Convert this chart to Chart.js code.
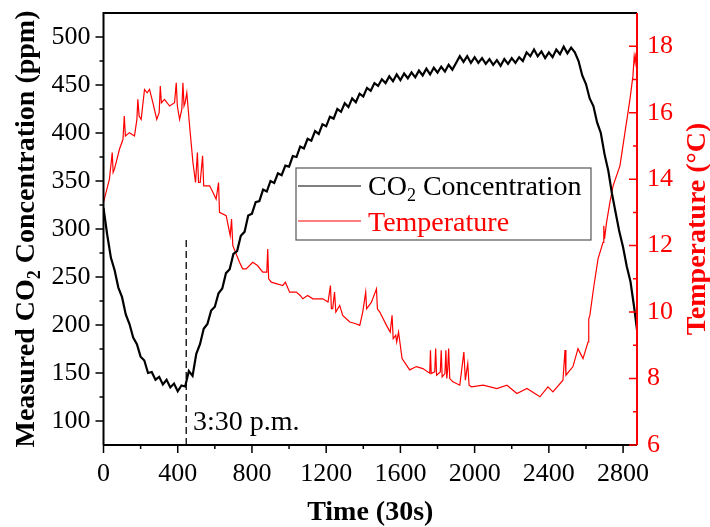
<!DOCTYPE html>
<html>
<head>
<meta charset="utf-8">
<script src="https://cdn.jsdelivr.net/npm/chart.js@4.4.1/dist/chart.umd.min.js"></script>
<style>
  html, body { margin: 0; padding: 0; background: #fff; }
</style>
</head>
<body>
<canvas id="chart" width="710" height="527"></canvas>
<script>
// time axis in units of 30 s
const co2Time = [0, 20, 40, 60, 80, 100, 120, 140, 160, 180, 200, 220, 240, 260, 280, 300, 320, 340, 360, 380,
  400, 420, 440, 460, 480, 500, 520, 540, 560, 580, 600, 620, 640, 660, 680, 700, 720, 740, 760, 780,
  800, 820, 840, 860, 880, 900, 920, 940, 960, 980, 1000, 1020, 1040, 1060, 1080, 1100, 1120, 1140, 1160, 1180,
  1200, 1220, 1240, 1260, 1280, 1300, 1320, 1340, 1360, 1380, 1400, 1420, 1440, 1460, 1480, 1500, 1520, 1540, 1560, 1580,
  1600, 1620, 1640, 1660, 1680, 1700, 1720, 1740, 1760, 1780, 1800, 1820, 1840, 1860, 1880, 1900, 1920, 1940, 1960, 1980,
  2000, 2020, 2040, 2060, 2080, 2100, 2120, 2140, 2160, 2180, 2200, 2220, 2240, 2260, 2280, 2300, 2320, 2340, 2360, 2380,
  2400, 2420, 2440, 2460, 2480, 2500, 2520, 2540, 2560, 2580, 2600, 2620, 2640, 2660, 2680, 2700, 2720, 2740, 2760, 2780,
  2800, 2820, 2840, 2860, 2875];

// measured CO2 (ppm)
const co2Values = [322, 294, 270, 257, 239, 229, 211, 201, 187, 180, 167, 163, 150, 151, 143, 146, 138, 143, 135, 139,
  131, 137, 136, 152, 147, 170, 180, 196, 201, 215, 219, 233, 238, 254, 258, 274, 277, 293, 297, 314,
  316, 328, 329, 341, 339, 350, 348, 358, 356, 366, 365, 376, 375, 386, 384, 394, 392, 402, 399, 409,
  407, 417, 415, 425, 422, 431, 427, 436, 432, 441, 438, 447, 444, 452, 449, 456, 452, 459, 454, 461,
  455, 462, 457, 463, 458, 465, 460, 467, 461, 468, 463, 469, 464, 471, 466, 473, 480, 474, 480, 473,
  479, 473, 478, 472, 477, 471, 476, 470, 477, 472, 478, 473, 479, 475, 484, 480, 487, 480, 485, 478,
  484, 479, 487, 482, 490, 483, 489, 484, 475, 460, 451, 436, 428, 411, 400, 378, 361, 337, 317, 297,
  281, 261, 245, 218, 195];

// temperature (°C)
const tempTime = [0, 32, 47, 52, 59, 86, 105, 112, 118, 140, 167, 180, 185, 192, 203, 221, 235, 248, 266, 287,
  300, 306, 312, 329, 356, 383, 392, 398, 410, 422, 428, 434, 440, 449, 455, 464, 482, 496, 506, 512,
  521, 534, 540, 572, 590, 607, 620, 625, 661, 683, 690, 697, 733, 750, 769, 804, 830, 858, 880, 885,
  890, 904, 966, 980, 1003, 1039, 1060, 1074, 1100, 1128, 1182, 1210, 1223, 1228, 1235, 1245, 1252, 1273, 1289, 1327,
  1360, 1381, 1397, 1413, 1418, 1444, 1471, 1476, 1489, 1525, 1545, 1555, 1561, 1575, 1580, 1590, 1609, 1650, 1686, 1721,
  1758, 1762, 1766, 1785, 1790, 1795, 1815, 1820, 1825, 1840, 1845, 1850, 1855, 1860, 1866, 1883, 1920, 1942, 1950, 1963,
  1970, 1983, 2046, 2120, 2174, 2228, 2282, 2352, 2395, 2422, 2476, 2487, 2492, 2530, 2557, 2584, 2611, 2615, 2621, 2643,
  2665, 2692, 2696, 2700, 2711, 2729, 2746, 2783, 2810, 2837, 2853, 2860, 2865, 2870];
const tempValues = [13.3, 14.0, 14.8, 14.2, 14.3, 14.9, 15.2, 15.9, 15.3, 15.4, 15.3, 15.8, 16.4, 15.9, 15.8, 16.7, 16.6, 16.7, 16.3, 15.8,
  16.0, 16.8, 16.3, 16.4, 16.2, 16.3, 16.9, 16.2, 15.8, 16.1, 16.9, 16.2, 16.3, 16.6, 16.2, 15.6, 14.5, 13.9, 14.8, 13.9,
  13.9, 14.7, 13.8, 13.8, 13.6, 13.4, 13.9, 13.0, 12.9, 12.3, 12.8, 12.0, 11.5, 11.3, 11.3, 11.5, 11.4, 11.2, 11.2, 11.9,
  11.0, 10.9, 10.8, 10.9, 10.6, 10.6, 10.5, 10.4, 10.5, 10.4, 10.4, 10.3, 10.8, 10.1, 10.1, 10.6, 10.0, 10.2, 9.9, 9.7,
  9.65, 9.6, 10.0, 10.6, 10.1, 10.3, 10.7, 10.1, 10.0, 9.6, 9.4, 9.9, 9.2, 9.3, 9.1, 9.4, 8.6, 8.26, 8.36, 8.3,
  8.16, 8.85, 8.15, 8.2, 8.9, 8.1, 8.2, 8.85, 8.05, 8.15, 8.85, 8.0, 8.3, 8.9, 8.0, 7.9, 7.8, 8.8, 7.95, 8.45,
  7.8, 7.75, 7.8, 7.7, 7.8, 7.55, 7.7, 7.45, 7.75, 7.6, 7.95, 8.86, 8.1, 8.36, 8.9, 8.6, 9.1, 9.8, 9.9, 10.8,
  11.6, 12.1, 12.6, 12.2, 12.7, 13.3, 13.8, 14.4, 15.4, 16.4, 17.1, 17.7, 17.5, 17.8];

// 3:30 p.m. marker
const markerTime = [446, 446];
const markerCo2 = [75, 289];

const xTicks = [0, 400, 800, 1200, 1600, 2000, 2400, 2800];
const xMinor = [200, 600, 1000, 1400, 1800, 2200, 2600];
const co2Ticks = [100, 150, 200, 250, 300, 350, 400, 450, 500];
const co2Minor = [125, 175, 225, 275, 325, 375, 425, 475];
const tempTicks = [6, 8, 10, 12, 14, 16, 18];
const tempMinor = [7, 9, 11, 13, 15, 17];

const FONT = '"Liberation Serif", "Times New Roman", serif';
const RED = '#ff0000';

function toPoints(xs, ys) {
  return xs.map((x, i) => ({ x: x, y: ys[i] }));
}

// draw text pieces, some as subscripts; x is the centre when center is true
function drawRuns(ctx, runs, x, y, size, bold, center) {
  const main = (bold ? 'bold ' : '') + size + 'px ' + FONT;
  const small = (bold ? 'bold ' : '') + Math.round(size * 0.65) + 'px ' + FONT;
  let total = 0;
  runs.forEach(r => {
    ctx.font = r.sub ? small : main;
    r.w = ctx.measureText(r.t).width;
    total += r.w;
  });
  let cx = center ? x - total / 2 : x;
  ctx.textAlign = 'left';
  ctx.textBaseline = 'alphabetic';
  runs.forEach(r => {
    ctx.font = r.sub ? small : main;
    ctx.fillText(r.t, cx, r.sub ? y + size * 0.2 : y);
    cx += r.w;
  });
}

// no extra room for half labels, keep the plot box fixed
function fixPadding(s) {
  s.paddingTop = 0;
  s.paddingBottom = 0;
}

const framePlugin = {
  id: 'frame',
  afterDraw(chart) {
    const { ctx, chartArea: a, scales } = chart;
    const sx = scales.x, sl = scales.y, sr = scales.y2;
    ctx.save();

    // box
    ctx.lineWidth = 2;
    ctx.strokeStyle = '#000';
    ctx.beginPath();
    ctx.moveTo(a.left, a.bottom);
    ctx.lineTo(a.left, a.top);
    ctx.lineTo(a.right, a.top);
    ctx.moveTo(a.left, a.bottom);
    ctx.lineTo(a.right, a.bottom);
    ctx.stroke();

    // bottom + left ticks (outward)
    ctx.lineWidth = 1.5;
    ctx.beginPath();
    xTicks.forEach(v => { const p = sx.getPixelForValue(v); ctx.moveTo(p, a.bottom); ctx.lineTo(p, a.bottom + 8); });
    xMinor.forEach(v => { const p = sx.getPixelForValue(v); ctx.moveTo(p, a.bottom); ctx.lineTo(p, a.bottom + 4); });
    co2Ticks.forEach(v => { const p = sl.getPixelForValue(v); ctx.moveTo(a.left - 8, p); ctx.lineTo(a.left, p); });
    co2Minor.forEach(v => { const p = sl.getPixelForValue(v); ctx.moveTo(a.left - 4, p); ctx.lineTo(a.left, p); });
    ctx.stroke();

    // right axis (red, ticks inward)
    ctx.strokeStyle = RED;
    ctx.lineWidth = 2;
    ctx.beginPath();
    ctx.moveTo(a.right, a.top);
    ctx.lineTo(a.right, a.bottom);
    ctx.stroke();
    ctx.lineWidth = 1.5;
    ctx.beginPath();
    tempTicks.forEach(v => { const p = sr.getPixelForValue(v); ctx.moveTo(a.right - 8, p); ctx.lineTo(a.right, p); });
    tempMinor.forEach(v => { const p = sr.getPixelForValue(v); ctx.moveTo(a.right - 4, p); ctx.lineTo(a.right, p); });
    ctx.stroke();

    // axis titles
    ctx.fillStyle = '#000';
    drawRuns(ctx, [{ t: 'Time (30s)' }], (a.left + a.right) / 2, 520, 28, true, true);

    ctx.save();
    ctx.translate(34, (a.top + a.bottom) / 2);
    ctx.rotate(-Math.PI / 2);
    drawRuns(ctx, [{ t: 'Measured CO' }, { t: '2', sub: true }, { t: ' Concentration (ppm)' }], 0, 0, 28, true, true);
    ctx.restore();

    ctx.save();
    ctx.fillStyle = RED;
    ctx.translate(705, (a.top + a.bottom) / 2);
    ctx.rotate(-Math.PI / 2);
    drawRuns(ctx, [{ t: 'Temperature (°C)' }], 0, 0, 28, true, true);
    ctx.restore();

    // marker label
    ctx.fillStyle = '#000';
    drawRuns(ctx, [{ t: '3:30 p.m.' }], 193, 430, 28, false, false);

    // legend
    ctx.fillStyle = '#fff';
    ctx.fillRect(296, 168, 295, 72);
    ctx.strokeStyle = '#555';
    ctx.lineWidth = 1.2;
    ctx.strokeRect(296, 168, 295, 72);
    ctx.strokeStyle = '#000';
    ctx.beginPath(); ctx.moveTo(298, 186); ctx.lineTo(361, 186); ctx.stroke();
    ctx.strokeStyle = RED;
    ctx.beginPath(); ctx.moveTo(298, 221); ctx.lineTo(361, 221); ctx.stroke();
    ctx.fillStyle = '#000';
    drawRuns(ctx, [{ t: 'CO' }, { t: '2', sub: true }, { t: ' Concentration' }], 368, 195, 28, false, false);
    ctx.fillStyle = RED;
    drawRuns(ctx, [{ t: 'Temperature' }], 368, 231, 28, false, false);

    ctx.restore();
  }
};

const tickFont = { family: FONT, size: 26 };

new Chart(document.getElementById('chart'), {
  type: 'line',
  data: {
    datasets: [
      {
        label: 'CO2 Concentration',
        data: toPoints(co2Time, co2Values),
        yAxisID: 'y',
        borderColor: '#000',
        borderWidth: 2.2,
        pointRadius: 0,
        tension: 0
      },
      {
        label: 'Temperature',
        data: toPoints(tempTime, tempValues),
        yAxisID: 'y2',
        borderColor: RED,
        borderWidth: 1.2,
        pointRadius: 0,
        tension: 0
      },
      {
        label: 'marker',
        data: toPoints(markerTime, markerCo2),
        yAxisID: 'y',
        borderColor: '#222',
        borderWidth: 1.5,
        borderDash: [7, 4],
        pointRadius: 0
      }
    ]
  },
  options: {
    responsive: false,
    animation: false,
    devicePixelRatio: 1,
    layout: { padding: { top: 13, left: 0, right: 0, bottom: 0 } },
    plugins: { legend: { display: false }, tooltip: { enabled: false } },
    scales: {
      x: {
        type: 'linear',
        min: 0,
        max: 2875,
        afterBuildTicks: s => { s.ticks = xTicks.map(v => ({ value: v })); },
        afterFit: s => { s.height = 82; },
        grid: { display: false, drawTicks: false },
        border: { display: false },
        ticks: { font: tickFont, color: '#000', padding: 14, maxRotation: 0, autoSkip: false, callback: v => String(v) }
      },
      y: {
        position: 'left',
        min: 75,
        max: 525,
        afterBuildTicks: s => { s.ticks = co2Ticks.map(v => ({ value: v })); },
        afterFit: s => { s.width = 103.5; fixPadding(s); },
        grid: { display: false, drawTicks: false },
        border: { display: false },
        ticks: { font: tickFont, color: '#000', padding: 13, autoSkip: false, callback: v => String(v) }
      },
      y2: {
        position: 'right',
        min: 6,
        max: 19,
        afterBuildTicks: s => { s.ticks = tempTicks.map(v => ({ value: v })); },
        afterFit: s => { s.width = 73; fixPadding(s); },
        grid: { display: false, drawTicks: false },
        border: { display: false },
        ticks: { font: tickFont, color: RED, padding: 10, autoSkip: false, callback: v => String(v) }
      }
    }
  },
  plugins: [framePlugin]
});
</script>
</body>
</html>
